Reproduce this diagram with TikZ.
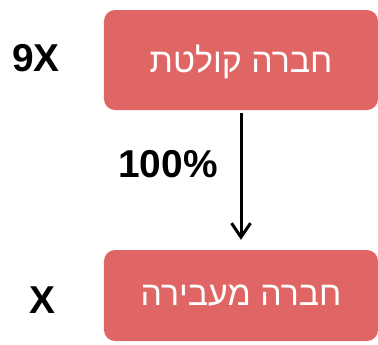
\documentclass[tikz,border=0pt]{standalone}
\usepackage{fontspec}
\setmainfont{Liberation Sans}
\newfontfamily\hebfont[Script=Hebrew]{Liberation Sans}
\TeXXeTstate=1
\usetikzlibrary{arrows.meta}
\definecolor{boxred}{HTML}{E06666}
\newcommand{\heb}[1]{{\hebfont\beginR #1\endR}}

\begin{document}
\begin{tikzpicture}[x=1bp, y=-1bp, >={Straight Barb[length=14bp,width=19bp,line width=3bp]}]
      \tikzstyle{every node}=[font=\fontsize{39}{44}\selectfont\bfseries]
      \tikzstyle{company}=[draw=none, fill=boxred, rounded corners=11bp, minimum width=274bp, text=white, font=\fontsize{34}{38}\selectfont]
      \useasboundingbox (0,0) rectangle (378,345);
      %%
  \node (c_top) at (241,60) [company, minimum height=100bp, text depth=3bp] {\heb{חברה קולטת}};
  \node (c_bot) at (241,295.5) [company, minimum height=91bp, text depth=1bp] {\heb{חברה מעבירה}};
  \node (l_top) at (36,58) {9X};
  \node (l_bot) at (42,300) {X};
  \node (l_pct) at (168,164) {100\%};
  \draw [->, line width=3bp, shorten <=3bp, shorten >=10bp] (c_top) -- (c_bot);
%
\end{tikzpicture}
\end{document}
